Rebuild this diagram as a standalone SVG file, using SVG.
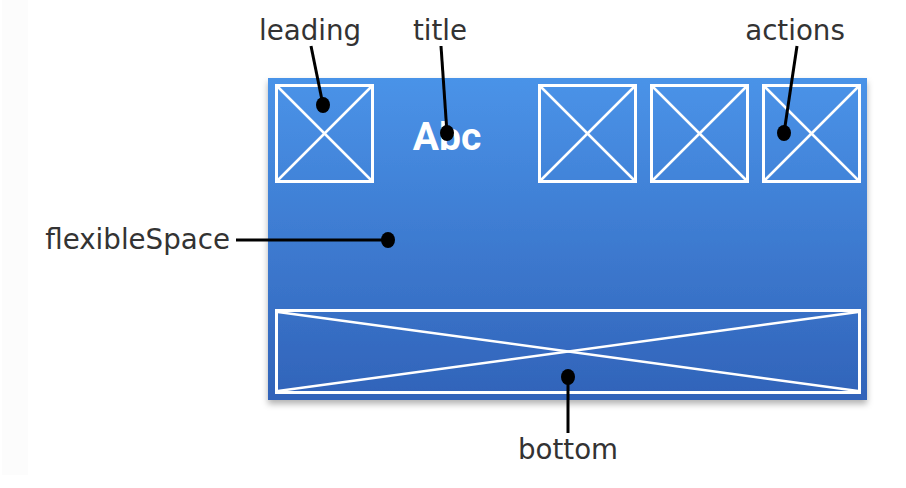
<svg xmlns="http://www.w3.org/2000/svg" width="906" height="488" viewBox="0 0 906 488">
<defs>
<linearGradient id="bg" x1="0" y1="0" x2="0" y2="1">
<stop offset="0" stop-color="#4a93e8"/>
<stop offset="1" stop-color="#3163b9"/>
</linearGradient>
<filter id="sh" x="-5%" y="-5%" width="110%" height="115%">
<feDropShadow dx="0" dy="4" stdDeviation="3" flood-color="#000" flood-opacity="0.3"/>
</filter>
</defs>
<style>
.lbl{font-family:"DejaVu Sans",sans-serif;font-size:27.7px;fill:#333}
.box{fill:none;stroke:#fff;stroke-width:3}
.x{stroke:#fff;stroke-width:2.5}
.con{stroke:#000;stroke-width:3;fill:none}
.dot{fill:#000}
</style>
<rect x="0" y="0" width="906" height="488" fill="#fff"/>
<rect x="2" y="0" width="26" height="475" fill="#fcfcfc"/>
<g id="appbar">
<rect x="268" y="78" width="599" height="322" fill="url(#bg)" filter="url(#sh)"/>
</g>
<g id="leading-box">
<rect class="box" x="276.5" y="85.5" width="96" height="96"/>
<line class="x" x1="278" y1="87" x2="371" y2="180"/>
<line class="x" x1="371" y1="87" x2="278" y2="180"/>
</g>
<g id="title-text">
<text x="447" y="150" text-anchor="middle" font-family="Roboto, sans-serif" font-weight="bold" font-size="39" fill="#fff">Abc</text>
</g>
<g id="action1">
<rect class="box" x="539.5" y="85.5" width="96" height="96"/>
<line class="x" x1="541" y1="87" x2="634" y2="180"/>
<line class="x" x1="634" y1="87" x2="541" y2="180"/>
</g>
<g id="action2">
<rect class="box" x="651.5" y="85.5" width="96" height="96"/>
<line class="x" x1="653" y1="87" x2="746" y2="180"/>
<line class="x" x1="746" y1="87" x2="653" y2="180"/>
</g>
<g id="action3">
<rect class="box" x="763.5" y="85.5" width="96" height="96"/>
<line class="x" x1="765" y1="87" x2="858" y2="180"/>
<line class="x" x1="858" y1="87" x2="765" y2="180"/>
</g>
<g id="bottom-box">
<rect class="box" x="276.5" y="310.5" width="583" height="82"/>
<line class="x" x1="278" y1="312" x2="858" y2="391"/>
<line class="x" x1="858" y1="312" x2="278" y2="391"/>
</g>
<g id="labels">
<text class="lbl" x="310" y="40" text-anchor="middle">leading</text>
<text class="lbl" x="440" y="40" text-anchor="middle">title</text>
<text class="lbl" x="795" y="40" text-anchor="middle">actions</text>
<text class="lbl" x="230" y="249" text-anchor="end">flexibleSpace</text>
<text class="lbl" x="568" y="459" text-anchor="middle">bottom</text>
</g>
<g id="connectors">
<line class="con" x1="311" y1="46" x2="323" y2="105"/>
<ellipse class="dot" cx="323" cy="105" rx="7" ry="8"/>
<line class="con" x1="441" y1="46" x2="447" y2="133"/>
<ellipse class="dot" cx="447" cy="133" rx="7" ry="8"/>
<line class="con" x1="797" y1="46" x2="784" y2="133"/>
<ellipse class="dot" cx="784" cy="133" rx="7" ry="8"/>
<line class="con" x1="236" y1="240" x2="388" y2="240"/>
<ellipse class="dot" cx="388" cy="240" rx="7" ry="8"/>
<line class="con" x1="568" y1="377" x2="568" y2="433"/>
<ellipse class="dot" cx="568" cy="377" rx="7" ry="8"/>
</g>
</svg>
